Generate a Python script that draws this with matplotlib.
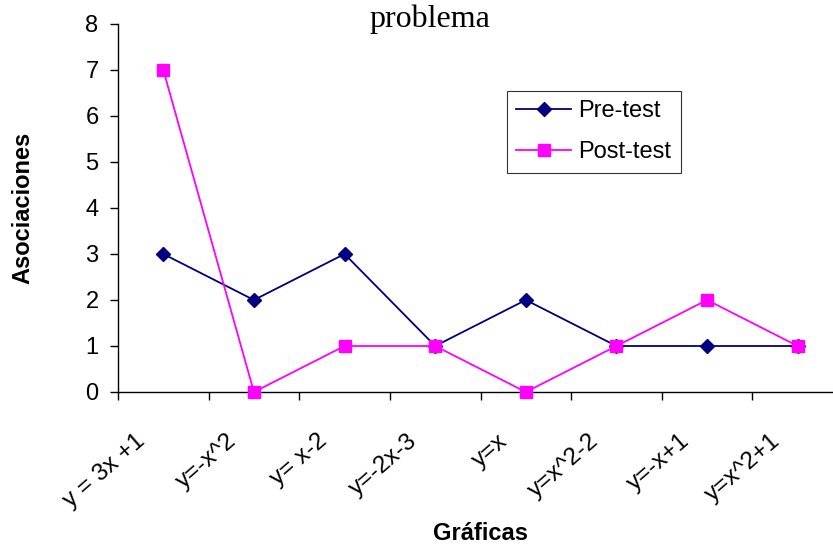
import matplotlib
matplotlib.use("Agg")
import matplotlib.pyplot as plt
import matplotlib.transforms as mtransforms
import numpy as np

categories = ["y = 3x +1", "y=-x^2", "y= x-2", "y=-2x-3", "y=x", "y=x^2-2", "y=-x+1", "y=x^2+1"]
pre_test = [3, 2, 3, 1, 2, 1, 1, 1]
post_test = [7, 0, 1, 1, 0, 1, 2, 1]

plt.rcParams['font.family'] = ['Liberation Sans', 'DejaVu Sans']

W, H = 833, 546
fig = plt.figure(figsize=(W / 100, H / 100), dpi=100)
ax = fig.add_axes([118 / W, 154 / H, 725 / W, 368 / H])

x = np.arange(len(categories))
ax.plot(x, pre_test, color='#000080', marker='D', markersize=7, linewidth=1.3, label='Pre-test', clip_on=False, zorder=3)
ax.plot(x, post_test, color='#FF00FF', marker='s', markersize=8.5, linewidth=1.3, label='Post-test', clip_on=False, zorder=3)

ax.set_xlim(-0.5, len(categories) - 0.5)
ax.set_ylim(0, 8)
ax.set_yticks(range(0, 9))
ax.set_xticks(np.arange(len(categories) + 1) - 0.5)
ax.set_xticklabels([])
ax.tick_params(axis='x', which='major', length=6, direction='out', width=1)
ax.tick_params(axis='y', length=6, direction='out', width=1, labelsize=17, pad=8)

base = mtransforms.blended_transform_factory(ax.transData, ax.transAxes)
offset = mtransforms.ScaledTranslation(-28 / 100, -38 / 100, fig.dpi_scale_trans)
for xi, cat in zip(x, categories):
    ax.text(xi, 0, cat, transform=base + offset, rotation=41, ha='right', va='top',
            rotation_mode='anchor', fontsize=17.5, clip_on=False)

for s in ['top', 'right']:
    ax.spines[s].set_visible(False)
ax.spines['left'].set_linewidth(1)
ax.spines['bottom'].set_linewidth(1)

fig.text(23 / W, 1 - 208 / H, 'Asociaciones', rotation=90, ha='center', va='center', fontsize=17, fontweight='bold')
fig.text(480 / W, 1 - 534 / H, 'Gráficas', ha='center', va='center', fontsize=17, fontweight='bold')
fig.text(430 / W, 1 - 27 / H, 'problema', ha='center', va='baseline', fontsize=23, family='Liberation Serif')

leg = ax.legend(loc='upper left', bbox_to_anchor=(507 / W, 1 - 91 / H), bbox_transform=fig.transFigure,
                frameon=True, fancybox=False, edgecolor='black', fontsize=17, handlelength=2.33,
                borderpad=0.4, labelspacing=0.8, handletextpad=0.3, borderaxespad=0)
leg.get_frame().set_linewidth(0.8)

fig.savefig('out.png', dpi=100)
